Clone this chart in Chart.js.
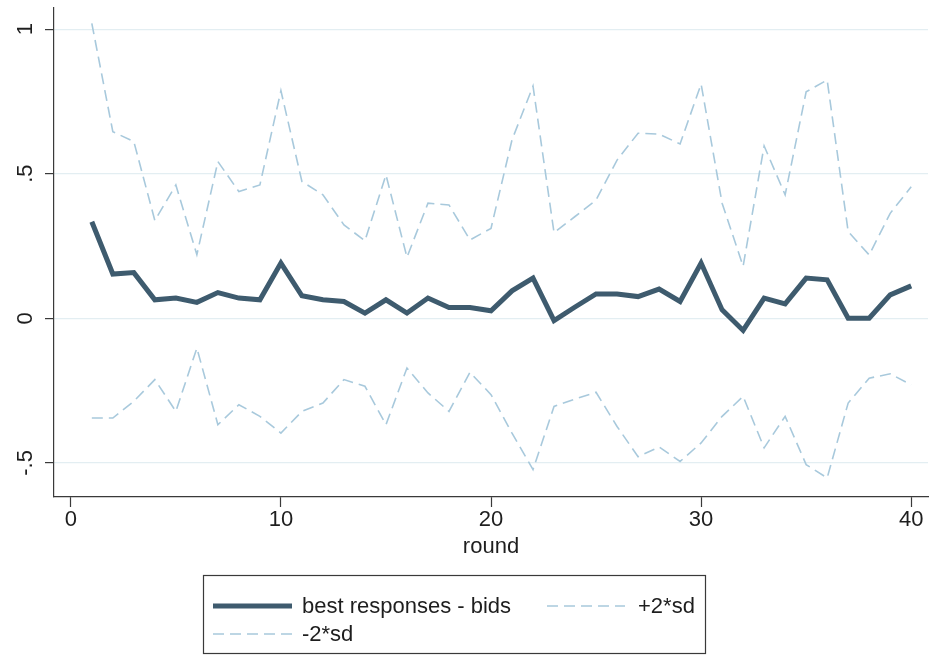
<!DOCTYPE html>
<html>
<head>
<meta charset="utf-8">
<script src="https://cdn.jsdelivr.net/npm/chart.js@4.4.1/dist/chart.umd.min.js"></script>
<style>
  html, body { margin: 0; padding: 0; background: #ffffff; }
  #wrap { width: 930px; height: 655px; position: relative; }
</style>
</head>
<body>
<div id="wrap"><canvas id="c" width="930" height="655"></canvas></div>
<script>
// Rounds and per-round statistics
const rounds = [1, 2, 3, 4, 5, 6, 7, 8, 9, 10,
                11, 12, 13, 14, 15, 16, 17, 18, 19, 20,
                21, 22, 23, 24, 25, 26, 27, 28, 29, 30,
                31, 32, 33, 34, 35, 36, 37, 38, 39, 40];

const bestResponses = [0.334, 0.153, 0.158, 0.064, 0.070, 0.055, 0.089, 0.070, 0.064, 0.191,
                       0.078, 0.064, 0.058, 0.018, 0.064, 0.018, 0.070, 0.037, 0.037, 0.026,
                       0.095, 0.139, -0.008, 0.039, 0.084, 0.084, 0.075, 0.101, 0.058, 0.191,
                       0.029, -0.042, 0.070, 0.050, 0.139, 0.133, 0.000, 0.000, 0.081, 0.112];

const plus2sd = [1.020, 0.645, 0.611, 0.338, 0.461, 0.220, 0.542, 0.438, 0.461, 0.787,
                 0.473, 0.427, 0.323, 0.268, 0.496, 0.211, 0.398, 0.392, 0.271, 0.311,
                 0.617, 0.803, 0.296, 0.352, 0.409, 0.547, 0.640, 0.637, 0.603, 0.810,
                 0.398, 0.180, 0.596, 0.427, 0.783, 0.824, 0.300, 0.219, 0.363, 0.455];

const minus2sd = [-0.345, -0.345, -0.287, -0.212, -0.322, -0.103, -0.368, -0.299, -0.339, -0.397,
                  -0.322, -0.293, -0.212, -0.235, -0.368, -0.172, -0.258, -0.322, -0.187, -0.264,
                  -0.397, -0.523, -0.305, -0.279, -0.256, -0.374, -0.479, -0.445, -0.495, -0.431,
                  -0.339, -0.270, -0.448, -0.339, -0.506, -0.552, -0.293, -0.207, -0.192, -0.230];

const seriesLabels = ['best responses - bids', '+2*sd', '-2*sd'];

const xTicks = [0, 10, 20, 30, 40];
const yTicks = [-0.5, 0, 0.5, 1];
const yTickLabels = ['-.5', '0', '.5', '1'];
const xTitle = 'round';

// Styling
const FONT = '"Liberation Sans", Arial, Helvetica, sans-serif';
const TEXT = '#1e1e1e';
const AXIS = '#3a3a3a';
const GRID = '#e3eef2';
const MAIN = '#3e5b6e';
const BAND = '#a8c9dc';

const toPoints = (ys) => rounds.map((r, i) => ({ x: r, y: ys[i] }));

// Rotated y tick labels and the boxed two-column key below the axis title
const stataDecor = {
  id: 'stataDecor',
  afterDraw(chart) {
    const ctx = chart.ctx;
    const ys = chart.scales.y;
    ctx.save();
    ctx.fillStyle = TEXT;
    ctx.font = '22px ' + FONT;
    ctx.textAlign = 'center';
    ctx.textBaseline = 'middle';
    ys.ticks.forEach((t) => {
      const idx = yTicks.indexOf(t.value);
      if (idx < 0) return;
      const py = ys.getPixelForValue(t.value);
      ctx.save();
      ctx.translate(26, py);
      ctx.rotate(-Math.PI / 2);
      ctx.fillText(yTickLabels[idx], 0, 0);
      ctx.restore();
    });

    // key box
    ctx.strokeStyle = AXIS;
    ctx.lineWidth = 1.2;
    ctx.strokeRect(203.5, 575.5, 502, 78);

    const slots = [
      { ds: 0, x0: 213, x1: 292, tx: 302, y: 606 },
      { ds: 1, x0: 547, x1: 625, tx: 638, y: 606 },
      { ds: 2, x0: 213, x1: 292, tx: 302, y: 634 }
    ];
    slots.forEach((s) => {
      const ds = chart.data.datasets[s.ds];
      ctx.beginPath();
      ctx.setLineDash(ds.borderDash || []);
      ctx.lineWidth = ds.borderWidth;
      ctx.strokeStyle = ds.borderColor;
      ctx.moveTo(s.x0, s.y);
      ctx.lineTo(s.x1, s.y);
      ctx.stroke();
      ctx.setLineDash([]);
      ctx.fillStyle = TEXT;
      ctx.font = '22px ' + FONT;
      ctx.textAlign = 'left';
      ctx.textBaseline = 'middle';
      ctx.fillText(ds.label, s.tx, s.y + 1);
    });
    ctx.restore();
  }
};

new Chart(document.getElementById('c'), {
  type: 'line',
  data: {
    datasets: [
      {
        label: seriesLabels[0],
        data: toPoints(bestResponses),
        borderColor: MAIN,
        borderWidth: 5,
        pointRadius: 0,
        tension: 0,
        fill: false
      },
      {
        label: seriesLabels[1],
        data: toPoints(plus2sd),
        borderColor: BAND,
        borderWidth: 1.6,
        borderDash: [11, 6],
        pointRadius: 0,
        tension: 0,
        fill: false
      },
      {
        label: seriesLabels[2],
        data: toPoints(minus2sd),
        borderColor: BAND,
        borderWidth: 1.6,
        borderDash: [11, 6],
        pointRadius: 0,
        tension: 0,
        fill: false
      }
    ]
  },
  options: {
    responsive: false,
    animation: false,
    devicePixelRatio: 1,
    layout: { padding: { top: 8, right: 2, bottom: 0, left: 0 } },
    plugins: {
      legend: { display: false },
      tooltip: { enabled: false }
    },
    scales: {
      x: {
        type: 'linear',
        min: -0.8,
        max: 40.8,
        afterBuildTicks: (s) => { s.ticks = xTicks.map((v) => ({ value: v })); },
        afterFit: (s) => { s.height = 158; },
        ticks: {
          autoSkip: false,
          maxRotation: 0,
          padding: 0,
          color: TEXT,
          font: { family: FONT, size: 22 },
          callback: (v) => String(v)
        },
        grid: {
          drawOnChartArea: false,
          drawTicks: true,
          tickLength: 10,
          tickColor: AXIS,
          tickWidth: 1.2
        },
        border: { display: true, color: AXIS, width: 1.2 },
        title: {
          display: true,
          text: xTitle,
          color: TEXT,
          font: { family: FONT, size: 22 },
          padding: { top: 0, bottom: 95 }
        }
      },
      y: {
        type: 'linear',
        min: -0.618,
        max: 1.073,
        afterBuildTicks: (s) => { s.ticks = yTicks.map((v) => ({ value: v })); },
        afterFit: (s) => { s.width = 54; },
        ticks: { display: false },
        grid: {
          color: GRID,
          lineWidth: 1.2,
          drawTicks: true,
          tickLength: 9,
          tickColor: AXIS,
          tickWidth: 1.2
        },
        border: { display: true, color: AXIS, width: 1.2 }
      }
    }
  },
  plugins: [stataDecor]
});
</script>
</body>
</html>
